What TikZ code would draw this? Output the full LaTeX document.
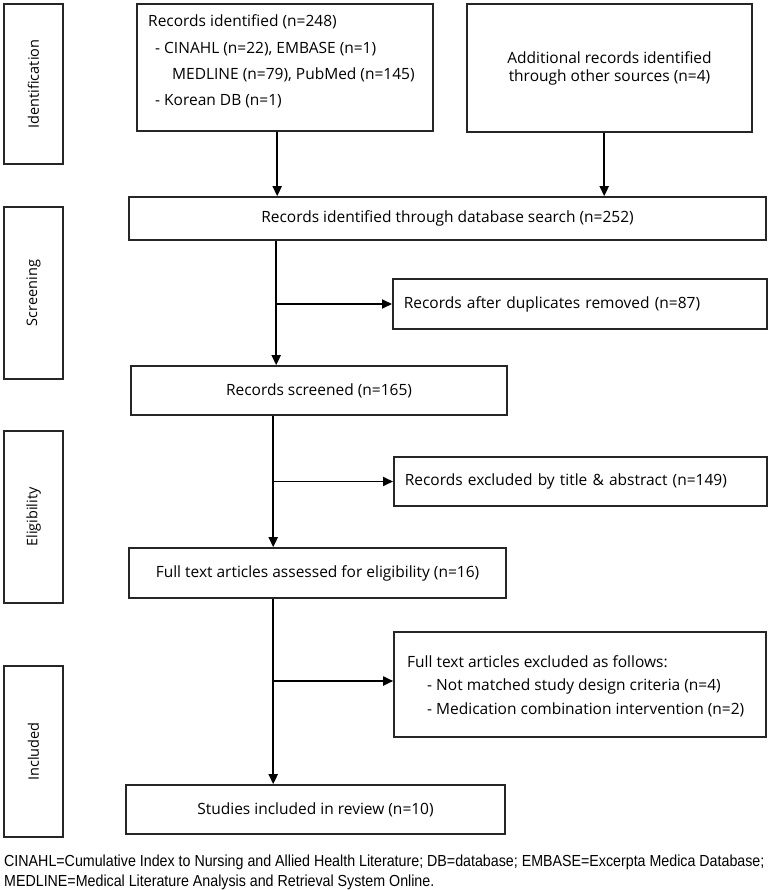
\documentclass[tikz,border=0pt]{standalone}
\usepackage{fontspec}
\setmainfont{Open Sans}
\newfontfamily\notefont[FakeStretch=0.89]{Liberation Sans}
\usetikzlibrary{arrows.meta,calc}
\begin{document}
\begin{tikzpicture}[x=1pt,y=-1pt,
  txt/.style={inner sep=0pt,font=\fontsize{15.5}{18}\selectfont},
  box/.style={draw=black!85,line width=1.6pt,inner sep=0pt,font=\fontsize{15.5}{18}\selectfont},
  side/.style={draw=black!85,line width=1.6pt,inner sep=0pt,font=\fontsize{14.5}{17}\selectfont,minimum width=59pt},
  arr/.style={line width=1.8pt,-{Triangle[width=9pt,length=10pt]}}]
\useasboundingbox (0,0) rectangle (770,890);
\fill[white] (0,0) rectangle (770,890);
% side boxes
\node[side,minimum height=160pt] (idside) at (33.5,84) {\rotatebox{90}{Identification}};
\node[side,minimum height=172pt] (scrside) at (33.5,293) {\rotatebox{90}{Screening}};
\node[side,minimum height=172pt] (eligside) at (33.5,517) {\rotatebox{90}{Eligibility}};
\node[side,minimum height=171pt] (inclside) at (33.5,751.5) {\rotatebox{90}{Included}};
% main boxes
\node[box,minimum width=296pt,minimum height=127pt] (recid) at (285,67.5) {};
\node[txt,anchor=west] (t1) at (148,22) {Records identified (n=248)};
\node[txt,anchor=west] (t2) at (155,49) {- CINAHL (n=22), EMBASE (n=1)};
\node[txt,anchor=west] (t3) at (172,75) {MEDLINE (n=79), PubMed (n=145)};
\node[txt,anchor=west] (t4) at (155,101) {- Korean DB (n=1)};
\node[box,minimum width=285pt,minimum height=128pt,align=center] (addl) at (609.5,68) {Additional records identified\\through other sources (n=4)};
\node[box,minimum width=637pt,minimum height=43pt] (db) at (447.5,218.5) {Records identified through database search (n=252)};
\node[box,minimum width=374pt,minimum height=50pt,anchor=west,text width=374pt] (dupl) at (392,304) {\hspace{11pt}Records after duplicates removed (n=87)};
\node[box,minimum width=376pt,minimum height=49pt] (screened) at (319,390.5) {Records screened (n=165)};
\node[box,minimum width=373pt,minimum height=49pt,anchor=west,text width=373pt] (excl) at (393,481.5) {\hspace{11pt}Records excluded by title \& abstract (n=149)};
\node[box,minimum width=377pt,minimum height=50pt] (full) at (317.5,573) {Full text articles assessed for eligibility (n=16)};
\node[box,minimum width=372pt,minimum height=105pt] (follows) at (580,684.5) {};
\node[txt,anchor=west] (f1) at (407,662) {Full text articles excluded as follows:};
\node[txt,anchor=west] (f2) at (427,686) {- Not matched study design criteria (n=4)};
\node[txt,anchor=west] (f3) at (427,710) {- Medication combination intervention (n=2)};
\node[box,minimum width=379pt,minimum height=49pt] (studies) at (315.5,809.5) {Studies included in review (n=10)};
% connectors
\coordinate (a1) at ([xshift=141pt]recid.south west);
\draw[arr] (a1) -- (a1 |- db.north);
\coordinate (a2) at ([xshift=138pt]addl.south west);
\draw[arr] (a2) -- (a2 |- db.north);
\coordinate (a3) at ([xshift=148pt]db.south west);
\draw[arr] (a3) -- (a3 |- screened.north);
\draw[arr] (a3 |- dupl.west) -- (dupl.west);
\coordinate (a4) at ([xshift=143pt]screened.south west);
\draw[arr] (a4) -- (a4 |- full.north);
\draw[arr] (a4 |- excl.west) -- (excl.west);
\coordinate (a5) at ([xshift=145pt]full.south west);
\draw[arr] (a5) -- (a5 |- studies.north);
\coordinate (a6) at ([yshift=3.5pt]follows.west);
\draw[arr] (a5 |- a6) -- (a6);
% note
\node[anchor=west,inner sep=0pt,font=\notefont\fontsize{16}{19}\selectfont] (n1) at (4,862) {CINAHL=Cumulative Index to Nursing and Allied Health Literature; DB=database; EMBASE=Excerpta Medica Database;};
\node[anchor=west,inner sep=0pt,font=\notefont\fontsize{16}{19}\selectfont] (n2) at (4,882) {MEDLINE=Medical Literature Analysis and Retrieval System Online.};
\end{tikzpicture}
\end{document}
